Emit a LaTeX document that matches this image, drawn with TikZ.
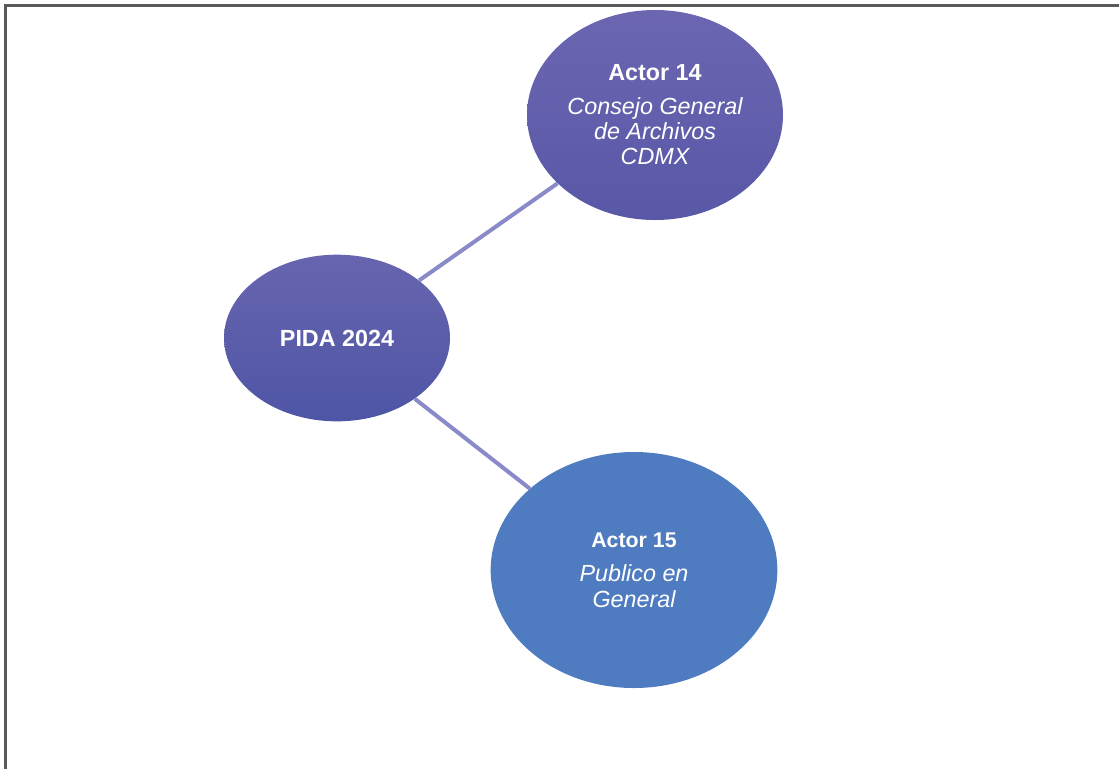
\documentclass[tikz,border=0pt]{standalone}
\usepackage{fontspec}
\setmainfont{Liberation Sans}
\usetikzlibrary{shapes.geometric}
\definecolor{actorA}{HTML}{6C66B1}
\definecolor{actorAb}{HTML}{5858A7}
\definecolor{pidaA}{HTML}{6865AF}
\definecolor{pidaB}{HTML}{4E55A5}
\definecolor{publico}{HTML}{4F7BC0}
\definecolor{enlace}{HTML}{8A8AC8}

\begin{document}
\begin{tikzpicture}[x=0.75pt,y=-0.75pt,
	actor/.style={ellipse, inner sep=0pt, text=white, align=center, font=\fontsize{17.5}{19}\selectfont},
	enlace/.style={draw=enlace, line width=3pt}]

	\useasboundingbox (0,0) rectangle (1119,768);
	\draw[line width=2pt, black!65] (5.5,775) -- (5.5,5.5) -- (1125,5.5);

\node[actor, minimum width=192pt, minimum height=157.5pt, top color=actorA, bottom color=actorAb] (a14) at (655,115)
	{\textbf{Actor 14}\\[6pt]\itshape Consejo General\\\itshape de Archivos\\\itshape CDMX};
\node[actor, minimum width=169.5pt, minimum height=125pt, top color=pidaA, bottom color=pidaB] (pida) at (337,338)
	{\textbf{PIDA 2024}};
\node[actor, minimum width=215pt, minimum height=177pt, fill=publico] (a15) at (634,570)
	{\fontsize{16}{18}\selectfont\textbf{Actor 15}\\[7pt]\itshape Publico en\\\itshape General};

	\draw[enlace] (pida) -- (a14);
	\draw[enlace] (pida) -- (a15);

\end{tikzpicture}
\end{document}
